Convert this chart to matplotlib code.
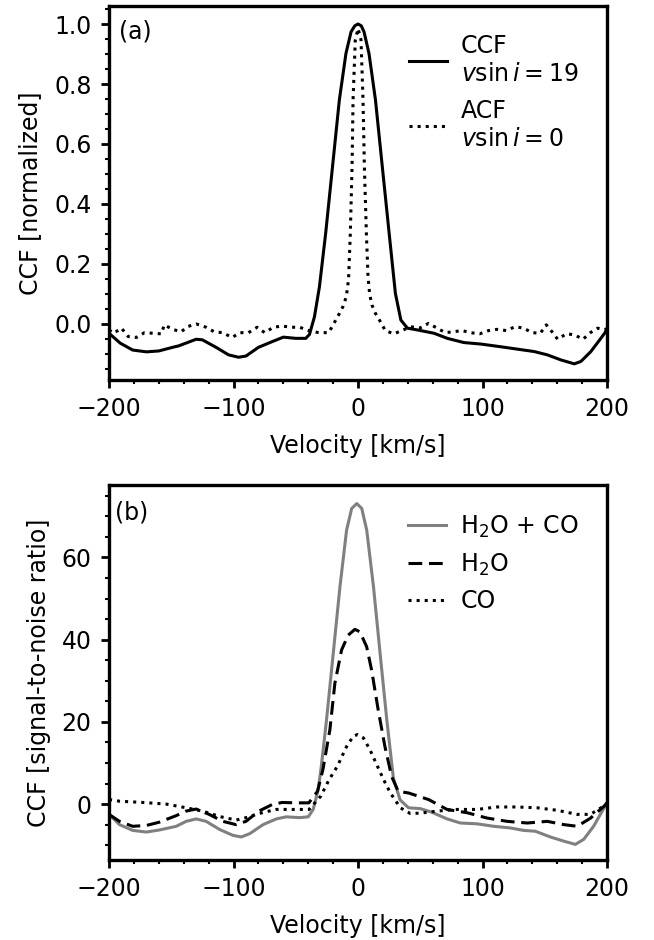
import matplotlib
matplotlib.use("Agg")
import matplotlib.pyplot as plt
from matplotlib.ticker import MultipleLocator

# ---- panel (a): normalized CCF / ACF ----
v_ccf = [-200, -191, -181, -170, -160, -149, -144, -130, -125, -114, -104, -96, -90,
         -80, -69, -60, -50, -42, -39, -35, -31, -26, -20.5, -15, -9.7, -5.6, -2.6, 0,
         2.6, 4.8, 8.8, 14, 19.5, 25, 30, 34.4, 39.7, 47.7, 61, 71.7, 85, 98.6, 114.6,
         128, 141.5, 152, 163, 173.7, 179, 187, 195, 200]
ccf = [-0.031, -0.064, -0.087, -0.093, -0.090, -0.078, -0.073, -0.051, -0.053, -0.078,
       -0.103, -0.111, -0.107, -0.078, -0.059, -0.044, -0.048, -0.048, -0.035, 0.024,
       0.124, 0.302, 0.524, 0.747, 0.902, 0.974, 0.994, 1.0, 0.994, 0.974, 0.902, 0.747,
       0.524, 0.302, 0.102, 0.013, -0.014, -0.020, -0.031, -0.048, -0.062, -0.067,
       -0.076, -0.084, -0.092, -0.103, -0.120, -0.133, -0.125, -0.092, -0.048, -0.020]

v_acf = [-200, -196.3, -190, -184.6, -178, -171.5, -165, -158, -155.6, -149, -142, -137,
         -130, -122, -115.6, -109, -101, -95, -88, -81, -75, -68, -61, -53.5,
         -46.8, -39.7, -31.6, -23.6, -19.6, -15.6, -12.1, -9.4, -7.6, -6.2, -4.8, -4.0,
         -2.2, 0, 2.4, 4.0, 5.1, 6.7, 8.0, 9.3, 11.2, 13.9, 17.9, 21.9, 28.6, 35.3, 42,
         49.5, 56.7, 63.5, 70.1, 76.8, 83.5, 90.2, 97.7, 104.9, 111.6, 119, 126.3, 133,
         139.8, 146.4, 151.2, 155.8, 160.3, 167.3, 173.7, 180.7, 186.6, 192.5, 198.6, 200]
acf = [-0.020, -0.031, -0.014, -0.042, -0.045, -0.029, -0.031, -0.033, -0.003, -0.018,
       -0.026, -0.009, 0.000, -0.011, -0.026, -0.029, -0.045, -0.029, -0.029, -0.011,
       -0.029, -0.011, -0.007, -0.011, -0.011, -0.022, -0.029, -0.029, 0.000, 0.030,
       0.058, 0.091, 0.150, 0.302, 0.524, 0.747, 0.947, 0.985, 0.947, 0.747, 0.524,
       0.302, 0.160, 0.100, 0.063, 0.036, 0.008, -0.022, -0.033, -0.022, -0.009, -0.014,
       0.002, -0.014, -0.029, -0.026, -0.022, -0.029, -0.033, -0.022, -0.018, -0.022,
       -0.009, -0.014, -0.029, -0.031, -0.003, -0.026, -0.051, -0.033, -0.036, -0.051,
       -0.029, -0.014, -0.020, -0.010]

# ---- panel (b): CCF signal-to-noise ----
v_both = [-200, -191.6, -181, -170, -159.6, -146, -138, -130, -122, -111, -100.5, -93.8,
          -87, -76.3, -65.6, -57.6, -46.9, -40, -36, -32, -29.5, -25.3, -19.9, -14.5,
          -9.2, -5.1, -1, 3, 7, 12.4, 17.7, 23.1, 28.4, 33.8, 40.6, 50, 59.4, 71.5,
          82.2, 95.6, 108.9, 122.3, 133, 142.4, 154.5, 165.1, 174.5, 181.2, 189.2,
          197.3, 200]
snr_both = [-2.5, -5.0, -6.4, -6.8, -6.3, -5.4, -4.2, -3.6, -4.2, -6.2, -7.6, -8.0,
            -7.2, -5.0, -3.6, -3.1, -3.3, -3.1, -1.3, 3.5, 9.2, 20.5, 36.7, 52.9,
            66.6, 71.9, 73.1, 71.9, 66.6, 52.9, 36.7, 20.5, 6.3, 1.0, -0.9, -1.1, -2.0,
            -3.6, -4.6, -4.8, -5.4, -5.8, -6.4, -6.6, -8.0, -9.0, -9.8, -8.6, -5.4,
            -1.1, 0.2]

v_h2o = [-200, -191.6, -181, -170, -159.6, -146, -138, -130, -119.6, -108.5, -98, -90,
         -79.6, -68.9, -60.9, -50, -39.5, -32.6, -28.2, -22.6, -18.6, -13.2, -7.9,
         -2.5, 1.5, 6.9, 10.9, 16.2, 21.6, 27, 32.3, 40.6, 56.7, 71.5, 87.6, 103.7,
         119.8, 135.9, 152, 165.4, 176.1, 186.8, 197.6, 200]
snr_h2o = [-2.5, -4.2, -5.4, -5.2, -4.4, -2.8, -1.7, -1.2, -2.5, -4.2, -5.0, -4.2,
           -1.7, -0.1, 0.4, 0.3, 0.3, 3.1, 8.4, 18.1, 29.4, 37.5, 41.1, 42.5, 41.9,
           38.3, 32.6, 22.9, 14.0, 6.7, 3.1, 2.7, 1.1, -1.3, -2.1, -3.4, -4.2, -4.6,
           -4.2, -5.0, -5.4, -3.4, -0.5, 0.3]

v_co = [-200, -191.6, -173, -154, -138, -124.9, -111.5, -98, -90, -79.6, -66, -52.7,
        -39.3, -30, -23.3, -16.6, -9.2, -3.8, -0.6, 4.3, 9.6, 15.3, 20.6, 26, 34, 42,
        50, 63.5, 79.5, 95.6, 111.6, 127.7, 143.8, 159.8, 175.9, 186.6, 197.3, 200]
snr_co = [1.1, 0.7, 0.4, 0.0, -0.9, -1.7, -3.0, -3.9, -3.3, -2.3, -1.3, -1.3, -1.3,
          1.9, 5.9, 9.2, 14.0, 16.5, 16.9, 16.1, 13.2, 9.4, 5.9, 2.7, -0.9, -2.3,
          -2.2, -1.7, -1.3, -1.3, -0.7, -0.7, -0.9, -1.5, -2.5, -2.5, -0.5, 0.2]

plt.rcParams["font.size"] = 17
fig = plt.figure(figsize=(6.54, 9.4), dpi=100)
ax1 = fig.add_axes([0.1667, 0.5957, 0.7615, 0.3979])
ax2 = fig.add_axes([0.1667, 0.0851, 0.7615, 0.3989])

ax1.plot(v_ccf, ccf, color="black", lw=2.2, label="CCF\n$v\\sin i = 19$")
ax1.plot(v_acf, acf, color="black", lw=2.2, ls=":", label="ACF\n$v\\sin i = 0$")
ax1.set_ylim(-0.187, 1.06)
ax1.yaxis.set_major_locator(MultipleLocator(0.2))
ax1.yaxis.set_minor_locator(MultipleLocator(0.05))
ax1.set_ylabel("CCF [normalized]", labelpad=9)
ax1.text(0.02, 0.965, "(a)", transform=ax1.transAxes, va="top", ha="left")
ax1.legend(loc="upper right", frameon=False, handlelength=1.6, handletextpad=0.6,
           borderaxespad=0.8, labelspacing=0.55)

ax2.plot(v_both, snr_both, color="gray", lw=2.2, label="H$_2$O + CO")
ax2.plot(v_h2o, snr_h2o, color="black", lw=2.2, ls=(0, (4.5, 2.2)), label="H$_2$O")
ax2.plot(v_co, snr_co, color="black", lw=2.2, ls=":", label="CO")
ax2.set_ylim(-13.6, 77.6)
ax2.yaxis.set_major_locator(MultipleLocator(20))
ax2.yaxis.set_minor_locator(MultipleLocator(5))
ax2.set_ylabel("CCF [signal-to-noise ratio]", labelpad=8)
ax2.text(0.012, 0.96, "(b)", transform=ax2.transAxes, va="top", ha="left")
ax2.legend(loc="upper right", frameon=False, handlelength=1.6, handletextpad=0.6,
           borderaxespad=0.8, labelspacing=0.5)

for ax in (ax1, ax2):
    ax.set_xlim(-200, 200)
    ax.xaxis.set_major_locator(MultipleLocator(100))
    ax.xaxis.set_minor_locator(MultipleLocator(20))
    ax.set_xlabel("Velocity [km/s]", labelpad=9)
    ax.tick_params(which="major", direction="out", length=5.5, width=2, pad=7)
    ax.tick_params(which="minor", direction="out", length=3.2, width=1.5, pad=7)
    for sp in ax.spines.values():
        sp.set_linewidth(2.4)

fig.savefig("out.png", dpi=100)
